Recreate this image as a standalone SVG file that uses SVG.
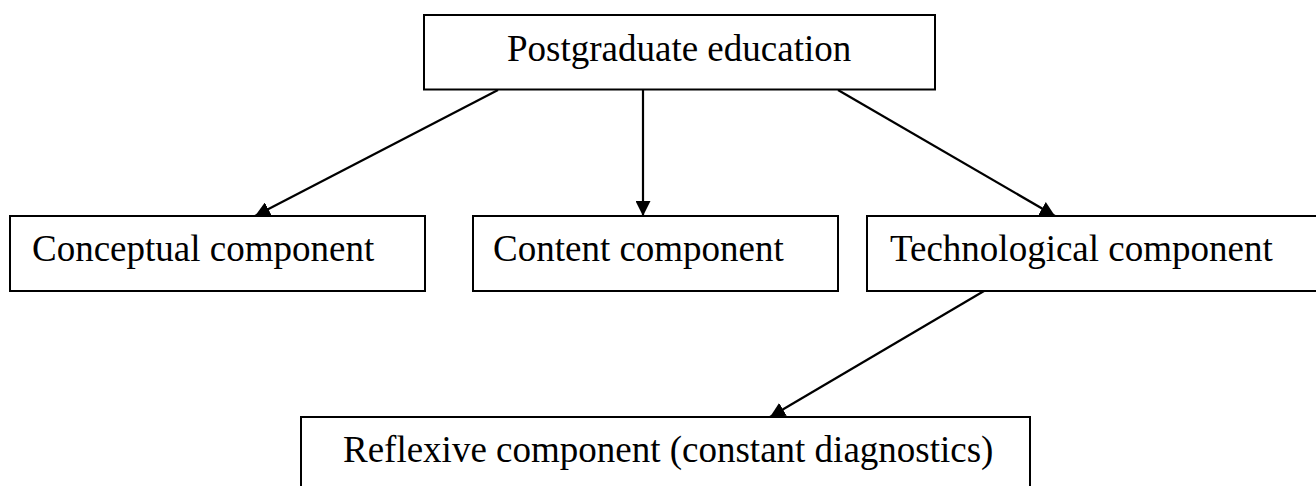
<svg xmlns="http://www.w3.org/2000/svg" width="1316" height="486" viewBox="0 0 1316 486">
<style>
.box{fill:#fff;stroke:#000;stroke-width:2}
.lbl{font-family:"Liberation Serif","Times New Roman",serif;font-size:37px;fill:#000}
.con{stroke:#000;stroke-width:2.2;fill:none;marker-end:url(#ah)}
</style>
<defs>
<marker id="ah" markerUnits="userSpaceOnUse" markerWidth="17" markerHeight="15" refX="15" refY="7.5" orient="auto">
<path d="M0,0 L15,7.5 L0,15 Z" fill="#000"/>
</marker>
</defs>
<rect width="1316" height="486" fill="#fff"/>
<g id="connectors">
<line class="con" x1="498" y1="90" x2="255" y2="216"/>
<line class="con" x1="643" y1="90" x2="643" y2="216"/>
<line class="con" x1="838" y1="90" x2="1055" y2="216"/>
<line class="con" x1="984" y1="291" x2="770" y2="417"/>
</g>
<g id="postgraduate">
<rect class="box" x="424" y="15" width="511" height="74.5"/>
<text class="lbl" x="507" y="61">Postgraduate education</text>
</g>
<g id="conceptual">
<rect class="box" x="10" y="216" width="415" height="75"/>
<text class="lbl" x="32" y="261">Conceptual component</text>
</g>
<g id="content">
<rect class="box" x="473" y="216" width="365" height="75"/>
<text class="lbl" x="493" y="261">Content component</text>
</g>
<g id="technological">
<rect class="box" x="867" y="216" width="460" height="75"/>
<text class="lbl" x="890" y="261">Technological component</text>
</g>
<g id="reflexive">
<rect class="box" x="301" y="417" width="729" height="80"/>
<text class="lbl" x="343" y="462">Reflexive component (constant diagnostics)</text>
</g>
</svg>
